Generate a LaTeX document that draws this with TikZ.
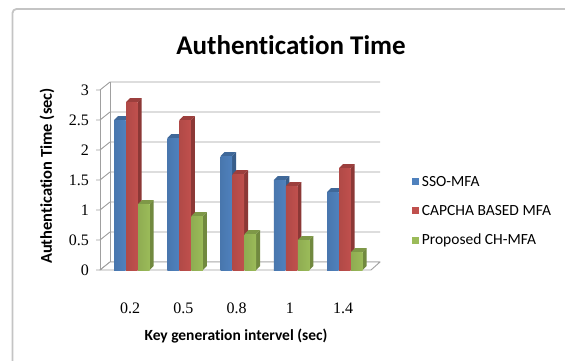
\documentclass[tikz,border=0pt]{standalone}
\usepackage{fontspec}
\setsansfont{Carlito}[Ligatures=NoCommon]
\newfontfamily\tickfont{Liberation Serif}
\usetikzlibrary{positioning}
\definecolor{ssofront}{HTML}{4F81BD}
\definecolor{ssoside}{HTML}{385D8A}
\definecolor{capfront}{HTML}{C0504D}
\definecolor{capside}{HTML}{8C3836}
\definecolor{chfront}{HTML}{9BBB59}
\definecolor{chside}{HTML}{71893F}
\definecolor{gridgray}{HTML}{A0A0A0}
\definecolor{framegray}{HTML}{C4C4C4}
% one 3d column: #1 left x, #2 value, #3 series
\newcommand{\pillar}[3]{%
  \fill[#3side] (#1+11.5,90) -- ++(4,4) -- ++(0,60*#2) -- ++(-4,-4) -- cycle;
  \fill[#3side!70!#3front] (#1,90+60*#2) -- ++(4,4) -- ++(11.5,0) -- ++(-4,-4) -- cycle;
  \shade[left color=#3front!92!black, middle color=#3front!90!white, right color=#3front] (#1,90) rectangle ++(11.5,60*#2);
}
\tikzset{
  gridline/.style={gridgray, line width=0.9pt},
  ticklabel/.style={font=\tickfont\fontsize{16}{18}\selectfont, inner sep=1pt},
  legkey/.style={minimum size=7pt, inner sep=0pt},
  legtext/.style={font=\sffamily\fontsize{15.5}{18}\selectfont, inner sep=0pt, anchor=west}
}
\begin{document}
\begin{tikzpicture}[x=1pt,y=1pt, line join=round]
\useasboundingbox (0,0) rectangle (565,360);
\fill[white] (0,0) rectangle (565,360);
\draw[framegray, line width=1.8pt, rounded corners=4pt] (12.5,-2) -- (12.5,351) -- (567,351);
% walls and grid
\foreach \k in {0,...,6}{
  \draw[gridline] (96,90+30*\k) -- (100,90+30*\k) -- (110,98+30*\k) -- (380,98+30*\k);}
\draw[gridline] (100,90) -- (100,270);
\draw[gridline] (110,98) -- (110,278);
\draw[gridline, fill=white] (100,90) -- (371,90) -- (380,98) -- (110,98) -- cycle;
\foreach \v [count=\k from 0] in {0,0.5,1,1.5,2,2.5,3}{
  \node[ticklabel, anchor=east] (ytick\k) at (90,90+30*\k) {\v};}
% columns
\foreach \a/\b/\c [count=\i from 0] in {2.5/2.8/1.1, 2.2/2.5/0.9, 1.9/1.6/0.6, 1.5/1.4/0.5, 1.3/1.7/0.3}{
  \pgfmathsetmacro\gx{114+53.3*\i}
  \pillar{\gx}{\a}{sso}
  \pillar{\gx+12}{\b}{cap}
  \pillar{\gx+24}{\c}{ch}}
\foreach \lab [count=\i from 0] in {0.2,0.5,0.8,1,1.4}{
  \node[ticklabel] (xtick\i) at (130+53.3*\i,51.5) {\lab};}
% titles
\node[font=\sffamily\bfseries\fontsize{27}{32}\selectfont] (title) at (291,315) {Authentication Time};
\node[font=\sffamily\bfseries\fontsize{16.5}{20}\selectfont, rotate=90] (ytitle) at (47,184) {Authentication Time (sec)};
\node[font=\sffamily\bfseries\fontsize{15.5}{18}\selectfont] (xtitle) at (236,23.5) {Key generation intervel (sec)};
% legend
\foreach \s/\t [count=\k from 0] in {sso/SSO-MFA, cap/CAPCHA BASED MFA, ch/Proposed CH-MFA}{
  \node[legkey, fill=\s front] (key\k) at (415,178.3-29.2*\k) {};
  \node[legtext, right=3pt of key\k] (leg\k) {\t};}
\end{tikzpicture}
\end{document}
